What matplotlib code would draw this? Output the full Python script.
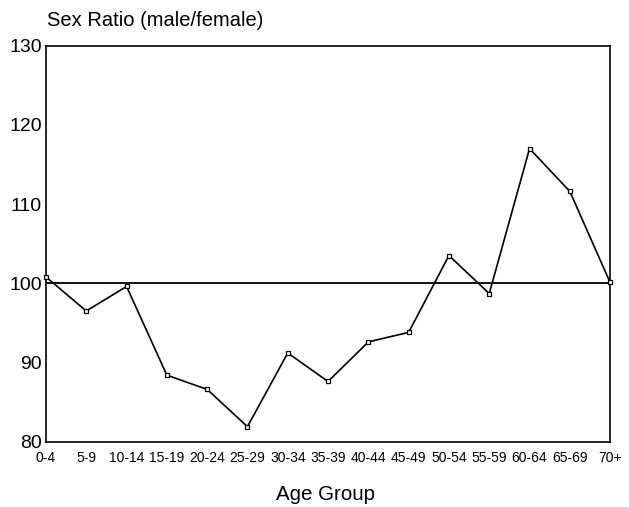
import matplotlib
matplotlib.use("Agg")
import matplotlib.pyplot as plt

age_groups = ["0-4", "5-9", "10-14", "15-19", "20-24", "25-29", "30-34",
              "35-39", "40-44", "45-49", "50-54", "55-59", "60-64", "65-69", "70+"]
sex_ratio = [100.8, 96.5, 99.6, 88.4, 86.6, 81.9, 91.2,
             87.6, 92.6, 93.8, 103.5, 98.7, 117.0, 111.6, 100.1]
reference = 100
y_ticks = [80, 90, 100, 110, 120, 130]

plt.rcParams['font.family'] = ['Liberation Sans', 'DejaVu Sans']

fig = plt.figure(figsize=(6.29, 5.07), dpi=100)
ax = fig.add_axes([0.0731, 0.1288, 0.8969, 0.7812])

x = list(range(len(age_groups)))
ax.axhline(reference, color='black', lw=1.3)
ax.plot(x, sex_ratio, color='black', lw=1.2, marker='s', markersize=3.5,
        markerfacecolor='white', markeredgecolor='black', markeredgewidth=0.9,
        clip_on=False, zorder=3)

ax.set_xlim(0, len(age_groups) - 1)
ax.set_ylim(80, 130)
ax.set_yticks(y_ticks)
ax.set_yticklabels([str(v) for v in y_ticks], fontsize=14)
ax.set_xticks(x)
ax.set_xticklabels(age_groups, fontsize=10)
ax.tick_params(axis='x', length=0, pad=7)
ax.tick_params(axis='y', length=0, pad=3)
for s in ax.spines.values():
    s.set_linewidth(1.2)

# axis titles placed in figure coords to match the original layout
fig.text(0.517, 0.014, "Age Group", fontsize=14.8, ha='center', va='baseline')
fig.text(0.075, 0.96, "Sex Ratio (male/female)", fontsize=14.5, ha='left', va='center')

fig.savefig("out.png", dpi=100)
